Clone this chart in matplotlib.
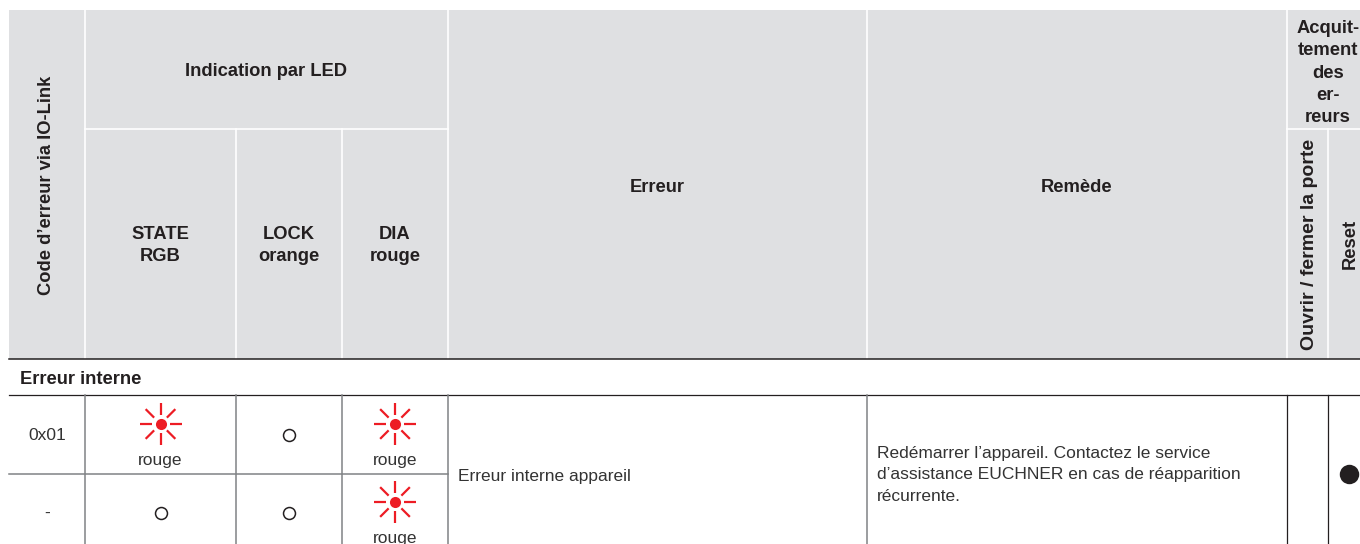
import matplotlib
matplotlib.use("Agg")
import matplotlib.pyplot as plt
import numpy as np

plt.rcParams["font.family"] = ["Liberation Sans", "DejaVu Sans"]

W, H = 1360, 544
HEAD_BG = "#dfe0e2"
DARK = "#231f20"
TEXT = "#333333"
RED = "#ed1c24"
GRAY = "#808285"

# table content
col_edges = [9, 85, 236, 342, 448, 867, 1287, 1328, 1360]
led_headers = ["STATE\nRGB", "LOCK\norange", "DIA\nrouge"]
codes = ["0x01", "-"]
led_states = [["on", "off", "on"], ["off", "off", "on"]]
section = "Erreur interne"
error_text = "Erreur interne appareil"
remedy_text = ("Redémarrer l’appareil. Contactez le service\n"
               "d’assistance EUCHNER en cas de réapparition\n"
               "récurrente.")
ack_title = "Acquit-\ntement\ndes\ner-\nreurs"

fig = plt.figure(figsize=(W / 100, H / 100), dpi=100)
ax = fig.add_axes([0, 0, 1, 1])
ax.set_xlim(0, W)
ax.set_ylim(H, 0)
ax.axis("off")

# header background and white separators
ax.fill_between([9, 1360], 10, 359, color=HEAD_BG, lw=0)
for x in [85, 448, 867, 1287]:
    ax.plot([x, x], [10, 359], color="white", lw=1.2)
for x in [236, 342, 1328]:
    ax.plot([x, x], [129, 359], color="white", lw=1.2)
ax.plot([85, 448], [129, 129], color="white", lw=1.2)
ax.plot([1287, 1360], [129, 129], color="white", lw=1.2)
ax.plot([9, 1360], [359, 359], color=DARK, lw=1.1)
ax.plot([9, 1360], [395, 395], color=DARK, lw=0.9)

bold = dict(color=DARK, fontweight="bold", fontsize=13.2, ha="center", va="center")
ax.text(47, 185, "Code d’erreur via IO-Link", rotation=90, **bold)
ax.text(266, 72, "Indication par LED", **bold)
for i, label in enumerate(led_headers):
    ax.text((col_edges[i + 1] + col_edges[i + 2]) / 2, 245.5, label, linespacing=1.39, **bold)
ax.text(657.5, 187, "Erreur", **bold)
ax.text(1077, 187, "Remède", **bold)
ax.text(1328, 73, ack_title, linespacing=1.39, **bold)
ax.text(1310, 244, "Ouvrir / fermer la porte", rotation=90,
        **{**bold, "fontsize": 14})
ax.text(1350, 244, "Reset", rotation=90, **bold)
ax.text(20, 380, section, color=DARK, fontweight="bold", fontsize=13.2, va="center")


def blink(cx, cy):
    # red LED: dot with eight rays
    ax.plot([cx], [cy], "o", color=RED, ms=8, mew=0)
    for a in np.arange(8) * np.pi / 4:
        ax.plot([cx + 9 * np.cos(a), cx + 21 * np.cos(a)],
                [cy + 9 * np.sin(a), cy + 21 * np.sin(a)],
                color=RED, lw=1.6, solid_capstyle="butt")


# body grid
for x in col_edges[1:6]:
    ax.plot([x, x], [395, 544], color=GRAY, lw=1.1)
ax.plot([9, 448], [474, 474], color=GRAY, lw=1.1)
ax.plot([1287, 1287], [395, 544], color=DARK, lw=0.9)
ax.plot([1328, 1328], [395, 544], color=DARK, lw=0.9)

row_y = [435, 513]
for r, code in enumerate(codes):
    ax.text(47, row_y[r], code, color=TEXT, fontsize=12.5, ha="center", va="center")
    for c, state in enumerate(led_states[r]):
        cx = (col_edges[c + 1] + col_edges[c + 2]) / 2
        if state == "on":
            top = row_y[r] - 11
            blink(cx, top)
            ax.text(cx, top + 36, "rouge", color=TEXT, fontsize=12.5, ha="center", va="center")
        else:
            ax.plot([cx], [row_y[r]], "o", mfc="white", mec=DARK, ms=8.6, mew=1.1)

ax.text(458, 476, error_text, color=TEXT, fontsize=12.5, va="center")
ax.text(877, 475, remedy_text, color=TEXT, fontsize=12.5, va="center", linespacing=1.55)
ax.plot([1349], [474], "o", color=DARK, ms=14, mew=0)

fig.savefig("out.png", dpi=100)
